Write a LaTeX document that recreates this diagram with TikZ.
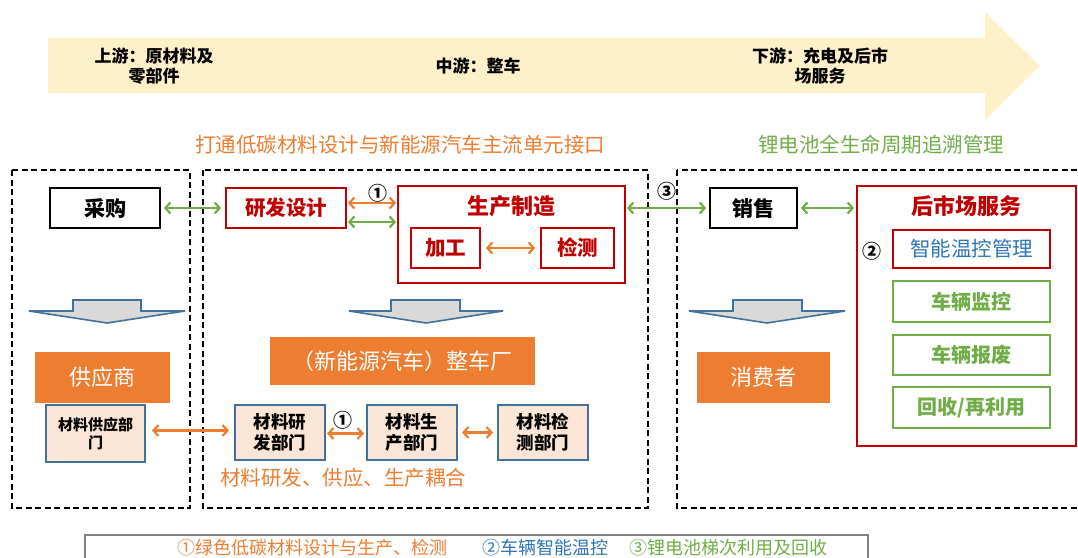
\documentclass[tikz,border=0pt]{standalone}
\usepackage{fontspec}
\setmainfont{Noto Sans CJK SC}
\usetikzlibrary{arrows.meta,calc}
\definecolor{cor}{HTML}{ED7D31}
\definecolor{cgr}{HTML}{70AD47}
\definecolor{cred}{HTML}{C00000}
\definecolor{cblu}{HTML}{2E75B6}
\definecolor{cbd}{HTML}{41719C}
\definecolor{cpch}{HTML}{FBE5D6}
\definecolor{cyel}{HTML}{FEF0C8}
\definecolor{cgry}{HTML}{D9D9D9}
\definecolor{clg}{HTML}{808080}
\begin{document}
\begin{tikzpicture}[x=1pt,y=-1pt,
  mybarb/.tip={Straight Barb[length=5pt,width=11pt,line width=2.2pt]},
  fs/.style={font=\fontsize{#1}{1.2\dimexpr#1pt\relax}\selectfont},
  fsb/.style={font=\fontsize{#1}{1.2\dimexpr#1pt\relax}\selectfont\bfseries},
  bx/.style={draw, line width=1.8pt, inner sep=0pt, align=center},
  blkbox/.style={bx, draw=black, fsb=21},
  redbox/.style={bx, draw=cred, text=cred, fsb=20.5},
  grnbox/.style={bx, draw=cgr, text=cgr, fsb=20},
  obox/.style={fill=cor, text=white, inner sep=0pt, fs=22},
  pbox/.style={bx, fill=cpch, draw=cbd, fsb=17.5, line width=2pt},
  dbox/.style={draw=black, line width=1.8pt, dash pattern=on 6pt off 3.5pt},
  circ/.style={inner sep=0pt, fsb=19},
  garr/.style={{mybarb}-{mybarb}, draw=cgr, line width=2.4pt},
  oarr/.style={{mybarb}-{mybarb}, draw=cor, line width=2.4pt},
  darr/.style={fill=cgry, draw=cbd, line width=1.6pt, line join=miter},
]
\useasboundingbox (0,0) rectangle (1078,557);

% top flow arrow
\fill[cyel] (48,38) -- (985,38) -- (985,12) -- (1040,66) -- (985,120) -- (985,93) -- (48,93) -- cycle;
\node[fsb=17, align=center] (up) at (154,66) {上游：原材料及\\零部件};
\node[fsb=17] (mid) at (478,66) {中游：整车};
\node[fsb=17, align=center] (down) at (820,66) {下游：充电及后市\\场服务};

% titles
\node[fs=20.5, text=cor] (t1) at (400,145) {打通低碳材料设计与新能源汽车主流单元接口};
\node[fs=20.5, text=cgr] (t2) at (881,145) {锂电池全生命周期追溯管理};

% dashed groups
\draw[dbox] (12,170) rectangle (190,508);
\draw[dbox] (203,170) rectangle (648,508);
\draw[dbox] (677,170) rectangle (1090,508);

% upper row
\node[blkbox, minimum width=110pt, minimum height=40pt] (cg) at (105,208) {采购};
\node[redbox, minimum width=120pt, minimum height=40pt] (rd) at (286,208) {研发设计};
\node[bx, draw=cred, minimum width=227pt, minimum height=97pt] (sc) at (511.5,234.5) {};
\node[text=cred, fsb=22] (sct) at (511,206) {生产制造};
\node[redbox, minimum width=69pt, minimum height=40pt] (jg) at (445.5,248) {加工};
\node[redbox, minimum width=73pt, minimum height=40pt] (jc) at (577.5,248) {检测};
\node[blkbox, minimum width=87pt, minimum height=40pt] (xs) at (753.5,208) {销售};
\node[bx, draw=cred, minimum width=219pt, minimum height=260pt] (hs) at (966.5,316) {};
\node[text=cred, fsb=22] (hst) at (966,206) {后市场服务};
\node[bx, draw=cred, text=cblu, fs=20.5, minimum width=157pt, minimum height=38pt] (zn) at (971.5,249) {智能温控管理};
\node[grnbox, minimum width=157pt, minimum height=41pt] (jk) at (971.5,301.5) {车辆监控};
\node[grnbox, minimum width=157pt, minimum height=40pt] (bf) at (971.5,355) {车辆报废};
\node[grnbox, minimum width=157pt, minimum height=41pt] (hl) at (971.5,407.5) {回收/再利用};

\node[circ] (n1) at (378,193) {①};
\node[circ] (n3) at (667,191) {③};
\node[circ] (n2) at (872,251) {②};

\draw[garr, shorten <=3pt, shorten >=4pt] (cg.east) -- (rd.west);
\draw[oarr, shorten <=1pt, shorten >=1pt] ([yshift=5pt]rd.east) -- ([yshift=5pt]rd.east -| sc.west);
\draw[garr, shorten <=1pt, shorten >=1pt] ([yshift=-14pt]rd.east) -- ([yshift=-14pt]rd.east -| sc.west);
\draw[oarr, shorten <=5pt, shorten >=5pt] (jg.east) -- (jc.west);
\draw[garr, shorten <=1pt, shorten >=3pt] (sc.east |- xs.west) -- (xs.west);
\draw[garr, shorten <=3pt, shorten >=2pt] (xs.east) -- (xs.east -| hs.west);

% down arrows
\draw[darr] (73,300) -- (141,300) -- (141,311) -- (185,311) -- (107,323) -- (29,311) -- (73,311) -- cycle;
\draw[darr] (391,300) -- (460,300) -- (460,311) -- (503,311) -- (426,323) -- (349,311) -- (391,311) -- cycle;
\draw[darr] (733,300) -- (802,300) -- (802,311) -- (845,311) -- (767,323) -- (689,311) -- (733,311) -- cycle;

% orange blocks
\node[obox, minimum width=135pt, minimum height=51pt] (gys) at (102.5,377.5) {供应商};
\node[obox, minimum width=265pt, minimum height=48pt] (zcc) at (402.5,361) {（新能源汽车）整车厂};
\node[obox, minimum width=133pt, minimum height=51pt] (xfz) at (763.5,377.5) {消费者};

% department boxes
\node[pbox, fsb=15, minimum width=99pt, minimum height=57pt] (gb) at (95.5,433.5) {材料供应部\\门};
\node[pbox, minimum width=90pt, minimum height=55pt] (yf) at (280,432.5) {材料研\\发部门};
\node[pbox, minimum width=90pt, minimum height=55pt] (sb) at (412,432.5) {材料生\\产部门};
\node[pbox, minimum width=90pt, minimum height=55pt] (jb) at (543,432.5) {材料检\\测部门};
\node[circ] (n1b) at (343,420) {①};

\draw[oarr, shorten <=6pt, shorten >=5pt] ([yshift=3pt]gb.east) -- ([yshift=3pt]gb.east -| yf.west);
\draw[oarr, shorten <=1pt, shorten >=2pt] ([yshift=-1pt]yf.east) -- ([yshift=-1pt]yf.east -| sb.west);
\draw[oarr, shorten <=4pt, shorten >=4pt] (sb.east) -- (jb.west);

\node[fs=20.5, text=cor] (cpl) at (343,478) {材料研发、供应、生产耦合};

% legend
\node[draw=clg, line width=2pt, minimum width=783pt, minimum height=46pt, inner sep=0pt] (lg) at (476.5,558) {};
\node[fs=18, text=cor] (l1) at (312,548) {①绿色低碳材料设计与生产、检测};
\node[fs=18, text=cblu] (l2) at (545,548) {②车辆智能温控};
\node[fs=18, text=cgr] (l3) at (728,548) {③锂电池梯次利用及回收};
\end{tikzpicture}
\end{document}
